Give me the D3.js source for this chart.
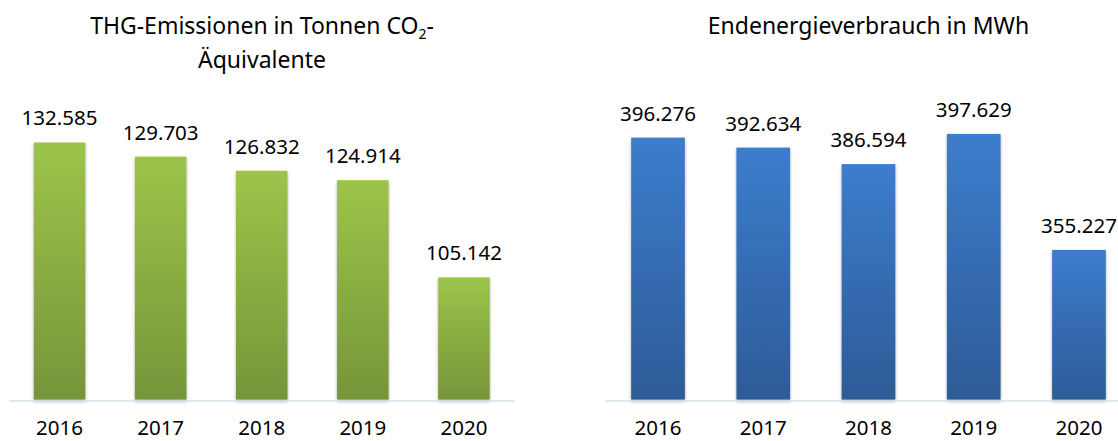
<!DOCTYPE html>
<html>
<head>
<meta charset="utf-8">
<script src="https://cdn.jsdelivr.net/npm/d3@7"></script>
<style>
  body { margin: 0; background: #fff; }
  text { font-family: "Noto Sans", "Open Sans", sans-serif; fill: #000; }
</style>
</head>
<body>
<script>
const years = ["2016", "2017", "2018", "2019", "2020"];
const emissions = [132585, 129703, 126832, 124914, 105142];
const energy = [396276, 392634, 386594, 397629, 355227];

const de = d3.formatLocale({ decimal: ",", thousands: ".", grouping: [3], currency: ["", " €"] });
const fmt = de.format(",d");

const svg = d3.select("body").append("svg")
  .attr("width", 1118)
  .attr("height", 441);

const defs = svg.append("defs");

const shadow = defs.append("filter")
  .attr("id", "shadow")
  .attr("x", "-20%").attr("y", "-10%")
  .attr("width", "140%").attr("height", "120%");
shadow.append("feDropShadow")
  .attr("dx", 0).attr("dy", 2)
  .attr("stdDeviation", 1.6)
  .attr("flood-color", "#000")
  .attr("flood-opacity", 0.35);

function gradient(id, top, bottom) {
  const g = defs.append("linearGradient")
    .attr("id", id)
    .attr("x1", 0).attr("y1", 0)
    .attr("x2", 0).attr("y2", 1);
  g.append("stop").attr("offset", "0%").attr("stop-color", top);
  g.append("stop").attr("offset", "100%").attr("stop-color", bottom);
}
gradient("green", "#9dc449", "#76953a");
gradient("blue", "#3c7dcd", "#2d5b97");

const baseY = 401;

drawChart = (values, opts) => {
  const x = d3.scaleBand()
    .domain(years)
    .range(opts.xRange)
    .paddingInner(0.49)
    .paddingOuter(0.245);

  const y = d3.scaleLinear()
    .domain(opts.domain)
    .range([baseY, baseY - opts.plotH]);

  const g = svg.append("g");

  g.selectAll("rect.bar")
    .data(values)
    .enter()
    .append("rect")
    .attr("class", "bar")
    .attr("x", (d, i) => x(years[i]))
    .attr("y", d => y(d))
    .attr("width", x.bandwidth())
    .attr("height", d => y(opts.domain[0]) - y(d) - 1.5)
    .attr("fill", "url(#" + opts.fill + ")")
    .attr("filter", "url(#shadow)");

  // baseline
  g.append("line")
    .attr("x1", opts.xRange[0])
    .attr("x2", opts.xRange[1])
    .attr("y1", baseY)
    .attr("y2", baseY)
    .attr("stroke", "#d3e0ef")
    .attr("stroke-width", 1.5);

  g.selectAll("text.val")
    .data(values)
    .enter()
    .append("text")
    .attr("class", "val")
    .attr("x", (d, i) => x(years[i]) + x.bandwidth() / 2)
    .attr("y", d => y(d) - 17)
    .attr("text-anchor", "middle")
    .style("font-size", "20.5px")
    .text(d => fmt(d));

  g.selectAll("text.year")
    .data(years)
    .enter()
    .append("text")
    .attr("class", "year")
    .attr("x", d => x(d) + x.bandwidth() / 2)
    .attr("y", 435)
    .attr("text-anchor", "middle")
    .style("font-size", "20.5px")
    .text(d => d);

  return g;
};

const left = drawChart(emissions, {
  xRange: [9, 514.5],
  domain: [80000, 140000],
  plotH: 295,
  fill: "green"
});

const right = drawChart(energy, {
  xRange: [605.4, 1131.6],
  domain: [300000, 420000],
  plotH: 328.3,
  fill: "blue"
});

// titles
const t1 = left.append("text")
  .attr("x", 262)
  .attr("y", 34)
  .attr("text-anchor", "middle")
  .style("font-size", "23px");
t1.append("tspan").text("THG-Emissionen in Tonnen CO");
t1.append("tspan").attr("dy", 5).style("font-size", "14px").text("2");
t1.append("tspan").attr("dy", -5).text("-");

left.append("text")
  .attr("x", 262)
  .attr("y", 68)
  .attr("text-anchor", "middle")
  .style("font-size", "23px")
  .text("Äquivalente");

right.append("text")
  .attr("x", 868.5)
  .attr("y", 34)
  .attr("text-anchor", "middle")
  .style("font-size", "23px")
  .text("Endenergieverbrauch in MWh");
</script>
</body>
</html>
